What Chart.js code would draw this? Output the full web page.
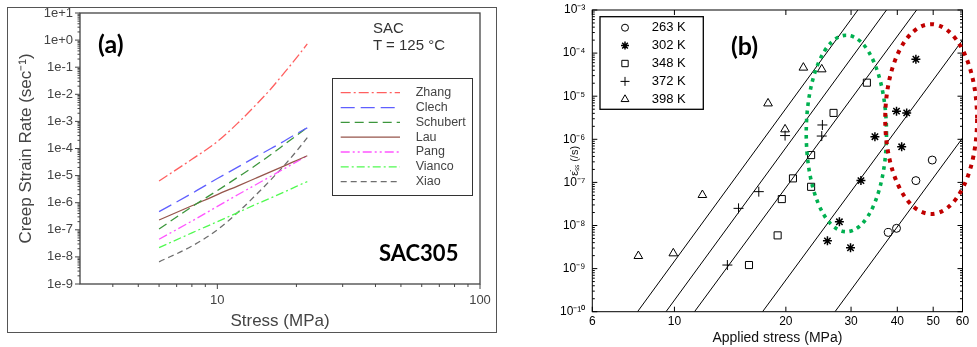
<!DOCTYPE html>
<html><head><meta charset="utf-8">
<script src="https://cdn.jsdelivr.net/npm/chart.js@4.4.0/dist/chart.umd.min.js"></script>
<style>
html,body{margin:0;padding:0;background:#fff;}
body{width:977px;height:347px;position:relative;overflow:hidden;}
canvas{position:absolute;}
#ca{left:0;top:-20px;}
#cb{left:500px;top:-20px;}
#frameA{position:absolute;left:7px;top:7px;width:490px;height:326px;box-sizing:border-box;border:1.5px solid #555;}
.t{position:absolute;white-space:nowrap;line-height:1;}
.big{font-family:Lato,'Open Sans',sans-serif;font-weight:700;color:#000;}
.note{font-family:'Liberation Sans',Arial,sans-serif;font-size:15px;color:#333;}
</style></head><body>
<div id="frameA"></div>
<canvas id="ca" width="505" height="360"></canvas>
<canvas id="cb" width="477" height="367"></canvas>
<div class="t big" style="left:98px;top:31px;font-size:25px;">(a)</div>
<div class="t big" style="left:379px;top:242px;font-size:22px;">SAC305</div>
<div class="t note" style="left:373px;top:20px;">SAC</div>
<div class="t note" style="left:373px;top:37px;">T = 125 °C</div>
<div class="t big" style="left:731px;top:33px;font-size:25px;">(b)</div>
<script>
// ---------------- Panel (a) data ----------------
const stressA  = [6, 8, 10, 12, 14, 16, 18, 20, 22];
const zhang    = [6.3e-6, 4.0e-5, 1.8e-4, 8.9e-4, 4.0e-3, 1.6e-2, 6.3e-2, 0.22, 0.72];
const clech    = [4.7e-7, 2.2e-6, 7.8e-6, 2.1e-5, 4.9e-5, 1.0e-4, 1.9e-4, 3.5e-4, 5.8e-4];
const schubert = [1.07e-7, 7.1e-7, 2.8e-6, 8.9e-6, 2.4e-5, 6.0e-5, 1.4e-4, 3.0e-4, 6.0e-4];
const lau      = [2.3e-7, 7.7e-7, 2.0e-6, 4.2e-6, 8.0e-6, 1.4e-5, 2.3e-5, 3.6e-5, 5.4e-5];
const pang     = [4.5e-8, 2.1e-7, 7.3e-7, 2.0e-6, 4.6e-6, 9.5e-6, 1.8e-5, 3.2e-5, 5.4e-5];
const vianco   = [2.2e-8, 7.7e-8, 2.0e-7, 4.4e-7, 8.6e-7, 1.5e-6, 2.5e-6, 4.0e-6, 6.0e-6];
const xiao     = [6.6e-9, 2.5e-8, 1.0e-7, 4.5e-7, 1.9e-6, 7.1e-6, 2.4e-5, 7.9e-5, 2.5e-4];
const modelNames = ['Zhang', 'Clech', 'Schubert', 'Lau', 'Pang', 'Vianco', 'Xiao'];
const aYTicks  = [1e-9, 1e-8, 1e-7, 1e-6, 1e-5, 1e-4, 1e-3, 1e-2, 1e-1, 1e0, 1e1];
const aYLabels = ['1e-9', '1e-8', '1e-7', '1e-6', '1e-5', '1e-4', '1e-3', '1e-2', '1e-1', '1e+0', '1e+1'];
const aXTicks  = [10, 100];
const aXLabels = ['10', '100'];

// ---------------- Panel (b) data ----------------
const fitLowStress  = [7.95, 9.49, 11.33, 17.3, 27.15];
const fitLowRate    = [1e-10, 1e-10, 1e-10, 1e-10, 1e-10];
const fitHighStress = [31.3, 37.4, 45.1, 60, 60];
const fitHighRate   = [1e-3, 1e-3, 1e-3, 2.0e-4, 1.07e-6];
const tempLabels = ['263 K', '302 K', '348 K', '372 K', '398 K'];
const stress263 = [37.8, 39.8, 44.9, 49.7];
const rate263   = [6.9e-9, 8.6e-9, 1.1e-7, 3.3e-7];
const stress302 = [25.9, 27.9, 29.9, 31.9, 34.8, 39.8, 42.4, 41.1, 44.9];
const rate302   = [4.4e-9, 1.22e-8, 3.05e-9, 1.1e-7, 1.15e-6, 4.5e-6, 4.1e-6, 6.7e-7, 7.2e-5];
const stress348 = [15.9, 19.0, 19.5, 20.9, 23.4, 23.4, 26.9, 33.1];
const rate348   = [1.21e-9, 5.9e-9, 4.1e-8, 1.24e-7, 7.9e-8, 4.3e-7, 4.1e-6, 2.06e-5];
const stress372 = [13.9, 14.9, 16.9, 19.9, 25.1, 25.0];
const rate372   = [1.21e-9, 2.5e-8, 6.1e-8, 1.22e-6, 2.15e-6, 1.19e-6];
const stress398 = [7.99, 9.93, 11.9, 17.9, 19.9, 22.3, 25.0];
const rate398   = [1.96e-9, 2.26e-9, 5.1e-8, 6.8e-6, 1.7e-6, 4.6e-5, 4.2e-5];
const bYTicks  = [1e-10, 1e-9, 1e-8, 1e-7, 1e-6, 1e-5, 1e-4, 1e-3];
const bYLabels = ['10⁻¹⁰', '10⁻⁹', '10⁻⁸', '10⁻⁷', '10⁻⁶', '10⁻⁵', '10⁻⁴', '10⁻³'];
const bXTicks  = [6, 10, 20, 30, 40, 50, 60];
const bXLabels = ['6', '10', '20', '30', '40', '50', '60'];
// highlighted regions (stress range, rate range)
const greenRegion = {stress: [22.7, 37.4], rate: [7.2e-9, 2.6e-4]};
const redRegion   = {stress: [37.1, 65.7], rate: [1.85e-8, 4.7e-4]};

Chart.defaults.font.family = "'Liberation Sans', Arial, Helvetica, sans-serif";
const pts = (xs, ys) => xs.map((v, i) => ({x: v, y: ys[i]}));

function minorValues(minExp, maxExp) {
  const out = [];
  for (let e = minExp; e < maxExp; e++) for (let m = 2; m <= 9; m++) out.push(m * Math.pow(10, e));
  return out;
}

function tickLine(ctx, x0, y0, x1, y1) { ctx.moveTo(x0, y0); ctx.lineTo(x1, y1); }

// ---------------- Panel (a) ----------------
const aStyles = [
  {c: 'rgb(255,95,95)',  d: [10, 3, 2, 3]},
  {c: 'rgb(95,95,255)',  d: [14, 6]},
  {c: 'rgb(60,150,60)',  d: [9, 5]},
  {c: 'rgb(150,85,75)',  d: []},
  {c: 'rgb(255,85,255)', d: [9, 3, 2, 3, 2, 3]},
  {c: 'rgb(80,250,80)',  d: [8, 3, 2, 3]},
  {c: 'rgb(110,110,110)', d: [6, 4]}
];
const aSeries = [zhang, clech, schubert, lau, pang, vianco, xiao];

const decorA = {
  id: 'decorA',
  afterDraw(chart) {
    const {ctx, chartArea: a, scales: {x, y}} = chart;
    ctx.save();
    ctx.strokeStyle = '#444'; ctx.lineWidth = 1.3; ctx.setLineDash([]);
    ctx.strokeRect(a.left, a.top, a.right - a.left, a.bottom - a.top);
    ctx.lineWidth = 1;
    ctx.beginPath();
    aYTicks.forEach(v => { const p = y.getPixelForValue(v); tickLine(ctx, a.left - 5, p, a.left, p); });
    minorValues(-9, 1).forEach(v => { const p = y.getPixelForValue(v); tickLine(ctx, a.left - 2.5, p, a.left, p); });
    aXTicks.forEach(v => { const p = x.getPixelForValue(v); tickLine(ctx, p, a.bottom, p, a.bottom + 5); });
    minorValues(0, 2).filter(v => v > 3).forEach(v => { const p = x.getPixelForValue(v); tickLine(ctx, p, a.bottom, p, a.bottom + 3); });
    ctx.stroke();
    // legend
    ctx.translate(0, 20);
    ctx.strokeStyle = '#333'; ctx.lineWidth = 1;
    ctx.strokeRect(332.5, 78.5, 140, 117);
    ctx.font = "12.5px 'Liberation Sans', Arial, sans-serif";
    ctx.textBaseline = 'middle'; ctx.textAlign = 'left';
    chart.data.datasets.forEach((ds, i) => {
      const yy = 92.7 + i * 14.83;
      ctx.beginPath();
      ctx.setLineDash(ds.borderDash || []);
      ctx.strokeStyle = ds.borderColor; ctx.lineWidth = 1.3;
      ctx.moveTo(340.7, yy); ctx.lineTo(400, yy); ctx.stroke();
      ctx.setLineDash([]);
      ctx.fillStyle = '#444';
      ctx.fillText(ds.label, 415.7, yy);
    });
    ctx.restore();
  }
};

new Chart(document.getElementById('ca'), {
  type: 'scatter',
  data: {
    datasets: aSeries.map((s, i) => ({
      label: modelNames[i], data: pts(stressA, s), showLine: true,
      borderColor: aStyles[i].c, borderDash: aStyles[i].d, borderWidth: 1.3,
      pointRadius: 0, cubicInterpolationMode: 'monotone'
    }))
  },
  options: {
    responsive: false, animation: false, devicePixelRatio: 1, events: [],
    layout: {padding: {left: 0, top: 33, right: 25, bottom: 6}},
    plugins: {legend: {display: false}, tooltip: {enabled: false}},
    scales: {
      x: {
        type: 'logarithmic', min: 3, max: 100,
        grid: {display: false, drawTicks: false}, border: {display: false},
        afterBuildTicks: s => { s.ticks = aXTicks.map(v => ({value: v})); },
        afterFit: s => { s.height = 50; },
        ticks: {autoSkip: false, maxRotation: 0, padding: 9, color: '#444', font: {size: 13},
          callback: v => { const k = aXTicks.indexOf(v); return k >= 0 ? aXLabels[k] : ''; }},
        title: {display: true, text: 'Stress (MPa)', color: '#444', font: {size: 17}, padding: {top: 0, bottom: 2}}
      },
      y: {
        type: 'logarithmic', min: 1e-9, max: 10,
        grid: {display: false, drawTicks: false}, border: {display: false},
        afterBuildTicks: s => { s.ticks = aYTicks.map(v => ({value: v})); },
        afterFit: s => { s.width = 80; },
        ticks: {autoSkip: false, padding: 7, color: '#444', font: {size: 13},
          callback: v => { const k = aYTicks.indexOf(v); return k >= 0 ? aYLabels[k] : ''; }},
        title: {display: true, text: 'Creep Strain Rate (sec⁻¹)', color: '#444', font: {size: 17}, padding: {top: 16, bottom: 0}}
      }
    }
  },
  plugins: [decorA]
});

// ---------------- Panel (b) ----------------
const bStyles = [
  {ps: 'circle', r: 4, w: 1},
  {ps: 'star', r: 4.5, w: 1.5},
  {ps: 'rect', r: 5, w: 1},
  {ps: 'cross', r: 5, w: 1},
  {ps: 'triangle', r: 5, w: 1}
];
const bSeries = [[stress263, rate263], [stress302, rate302], [stress348, rate348], [stress372, rate372], [stress398, rate398]];

function drawMarker(ctx, st, x, y) {
  const H = Chart.helpers;
  ctx.strokeStyle = '#000'; ctx.fillStyle = 'rgba(0,0,0,0)'; ctx.lineWidth = st.w;
  if (H && H.drawPoint) {
    H.drawPoint(ctx, {pointStyle: st.ps, radius: st.r, borderWidth: st.w, rotation: 0}, x, y);
  } else {
    ctx.beginPath(); ctx.arc(x, y, st.r, 0, Math.PI * 2); ctx.stroke();
  }
}

const decorB = {
  id: 'decorB',
  afterDraw(chart) {
    const {ctx, chartArea: a, scales: {x, y}} = chart;
    ctx.save();
    ctx.strokeStyle = '#000'; ctx.lineWidth = 1; ctx.setLineDash([]);
    ctx.strokeRect(a.left, a.top, a.right - a.left, a.bottom - a.top);
    ctx.beginPath();
    bYTicks.forEach(v => { const p = y.getPixelForValue(v);
      tickLine(ctx, a.left, p, a.left + 5, p); tickLine(ctx, a.right - 5, p, a.right, p); });
    minorValues(-10, -3).forEach(v => { const p = y.getPixelForValue(v);
      tickLine(ctx, a.left, p, a.left + 2.5, p); tickLine(ctx, a.right - 2.5, p, a.right, p); });
    bXTicks.forEach(v => { const p = x.getPixelForValue(v);
      tickLine(ctx, p, a.bottom, p, a.bottom - 5); tickLine(ctx, p, a.top, p, a.top + 5); });
    ctx.stroke();
    // highlighted regions
    const ell = (reg, color, lw, dash) => {
      const x0 = x.getPixelForValue(reg.stress[0]), x1 = x.getPixelForValue(reg.stress[1]);
      const y0 = y.getPixelForValue(reg.rate[0]), y1 = y.getPixelForValue(reg.rate[1]);
      ctx.beginPath();
      ctx.strokeStyle = color; ctx.lineWidth = lw; ctx.setLineDash(dash); ctx.lineCap = 'butt';
      ctx.ellipse((x0 + x1) / 2, (y0 + y1) / 2, Math.abs(x1 - x0) / 2, Math.abs(y1 - y0) / 2, 0, 0, Math.PI * 2);
      ctx.stroke();
    };
    ell(greenRegion, '#00b050', 3.6, [3.6, 4.6]);
    ell(redRegion, '#c00000', 4, [4, 5.2]);
    ctx.setLineDash([]);
    // legend
    ctx.translate(-500, 20);
    ctx.strokeStyle = '#000'; ctx.lineWidth = 1.3;
    ctx.strokeRect(600, 16.7, 103.3, 92.6);
    ctx.font = "13px 'Liberation Sans', Arial, sans-serif";
    ctx.textBaseline = 'middle'; ctx.textAlign = 'left';
    tempLabels.forEach((t, i) => {
      const yy = 27.7 + i * 17.9;
      const st = bStyles[i];
      drawMarker(ctx, {ps: st.ps, r: st.r - 0.5, w: st.w}, 625, yy);
      ctx.fillStyle = '#000';
      ctx.fillText(t, 651.7, yy);
    });
    ctx.restore();
  }
};

const bDatasets = [];
fitLowStress.forEach((s, i) => {
  bDatasets.push({label: 'fit', data: [{x: s, y: fitLowRate[i]}, {x: fitHighStress[i], y: fitHighRate[i]}],
    showLine: true, borderColor: '#000', borderWidth: 1, pointRadius: 0});
});
bSeries.forEach((sr, i) => {
  const st = bStyles[i];
  bDatasets.push({label: tempLabels[i], data: pts(sr[0], sr[1]), showLine: false,
    pointStyle: st.ps, pointRadius: st.r, pointBorderWidth: st.w, borderWidth: st.w,
    pointBorderColor: '#000', borderColor: '#000',
    pointBackgroundColor: 'rgba(0,0,0,0)', backgroundColor: 'rgba(0,0,0,0)'});
});

new Chart(document.getElementById('cb'), {
  type: 'scatter',
  data: {datasets: bDatasets},
  options: {
    responsive: false, animation: false, devicePixelRatio: 1, events: [],
    layout: {padding: {left: 0, top: 30, right: 14.5, bottom: 0}},
    plugins: {legend: {display: false}, tooltip: {enabled: false}},
    scales: {
      x: {
        type: 'logarithmic', min: 6, max: 60,
        grid: {display: false, drawTicks: false}, border: {display: false},
        afterBuildTicks: s => { s.ticks = bXTicks.map(v => ({value: v})); },
        afterFit: s => { s.height = 35.3; },
        ticks: {autoSkip: false, maxRotation: 0, padding: 2.4, color: '#000', font: {size: 12},
          callback: v => { const k = bXTicks.indexOf(v); return k >= 0 ? bXLabels[k] : ''; }},
        title: {display: true, text: 'Applied stress (MPa)', color: '#111', font: {size: 14}, padding: {top: 0, bottom: 0.6}}
      },
      y: {
        type: 'logarithmic', min: 1e-10, max: 1e-3,
        grid: {display: false, drawTicks: false}, border: {display: false},
        afterBuildTicks: s => { s.ticks = bYTicks.map(v => ({value: v})); },
        afterFit: s => { s.width = 92.3; },
        ticks: {autoSkip: false, padding: 7, color: '#000', font: {size: 12},
          callback: v => { const k = bYTicks.indexOf(v); return k >= 0 ? bYLabels[k] : ''; }},
        title: {display: true, text: 'ε̇ₛₛ (/s)', color: '#111', font: {size: 11}, padding: {top: 68.4, bottom: 0}}
      }
    }
  },
  plugins: [decorB]
});
</script>
</body></html>
